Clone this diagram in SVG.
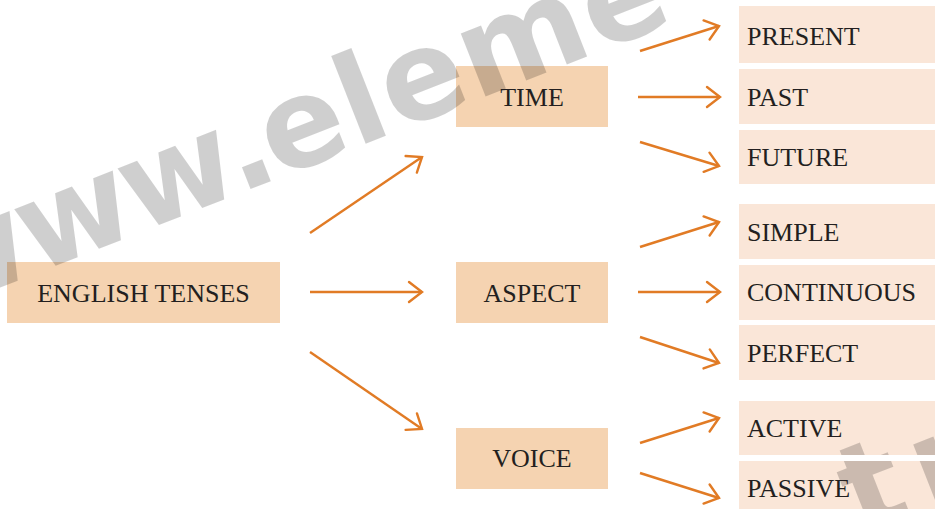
<svg xmlns="http://www.w3.org/2000/svg" width="935" height="509" viewBox="0 0 935 509">
<style>
.main{fill:#F5D3B1}
.leaf{fill:#FAE6D8}
.lbl{font-family:"Liberation Serif","Times New Roman",serif;font-size:26px;fill:#231F20}
.c{text-anchor:middle}
.wm{font-family:"DejaVu Sans","Liberation Sans",sans-serif;font-weight:bold;font-size:124px;fill:#000;fill-opacity:0.19}
.arr{stroke:#E17B25;stroke-width:2.4;fill:none;marker-end:url(#ah)}
</style>
<defs>
<marker id="ah" markerUnits="userSpaceOnUse" viewBox="-16 -14 18 28" markerWidth="18" markerHeight="28" refX="0" refY="0" orient="auto" overflow="visible">
<path d="M-13,-10 L0,0 L-13,10" fill="none" stroke="#E17B25" stroke-width="2.4" stroke-linecap="round" stroke-linejoin="miter"/>
</marker>
</defs>
<rect width="935" height="509" fill="#fff"/>
<g id="boxes-bg">
<rect id="bg-english" class="main" x="7" y="262" width="273" height="61"/>
<rect id="bg-time" class="main" x="456" y="66" width="152" height="61"/>
<rect id="bg-aspect" class="main" x="456" y="262" width="152" height="61"/>
<rect id="bg-voice" class="main" x="456" y="428" width="152" height="61"/>
<rect id="bg-present" class="leaf" x="739" y="6" width="196" height="57"/>
<rect id="bg-past" class="leaf" x="739" y="69" width="196" height="55"/>
<rect id="bg-future" class="leaf" x="739" y="130" width="196" height="54"/>
<rect id="bg-simple" class="leaf" x="739" y="204" width="196" height="55"/>
<rect id="bg-continuous" class="leaf" x="739" y="265" width="196" height="55"/>
<rect id="bg-perfect" class="leaf" x="739" y="325" width="196" height="55"/>
<rect id="bg-active" class="leaf" x="739" y="401" width="196" height="54"/>
<rect id="bg-passive" class="leaf" x="739" y="461" width="196" height="48"/>
</g>
<g id="watermark">
<g transform="translate(370 142) rotate(-21.5)"><text class="wm" x="-471 -360 -249 -141 -100 -15 29 114 245" y="0">www.eleme</text></g>
<g transform="translate(860 536) rotate(-21.5)"><text class="wm" x="0" y="0">t</text></g>
<g transform="translate(938 536) rotate(-21.5)"><text class="wm" x="0" y="0">h</text></g>
<rect x="739" y="455" width="196" height="6" fill="#fff"/>
</g>
<g id="connectors">
<line class="arr" x1="310" y1="233" x2="422" y2="157"/>
<line class="arr" x1="310" y1="292" x2="422" y2="292"/>
<line class="arr" x1="310" y1="352" x2="422" y2="429"/>
<line class="arr" x1="640" y1="51" x2="719" y2="26"/>
<line class="arr" x1="638" y1="97" x2="720" y2="97"/>
<line class="arr" x1="640" y1="142" x2="719" y2="166"/>
<line class="arr" x1="640" y1="247" x2="719" y2="222"/>
<line class="arr" x1="638" y1="292" x2="720" y2="292"/>
<line class="arr" x1="640" y1="337" x2="719" y2="363"/>
<line class="arr" x1="640" y1="443" x2="719" y2="418"/>
<line class="arr" x1="640" y1="473" x2="719" y2="498"/>
</g>
<g id="english-tenses"><text class="lbl c" x="143.5" y="302">ENGLISH TENSES</text></g>
<g id="time"><text class="lbl c" x="532" y="106">TIME</text></g>
<g id="aspect"><text class="lbl c" x="532" y="302">ASPECT</text></g>
<g id="voice"><text class="lbl c" x="532" y="467">VOICE</text></g>
<g id="present"><text class="lbl" x="747" y="45">PRESENT</text></g>
<g id="past"><text class="lbl" x="747" y="106">PAST</text></g>
<g id="future"><text class="lbl" x="747" y="166">FUTURE</text></g>
<g id="simple"><text class="lbl" x="747" y="241">SIMPLE</text></g>
<g id="continuous"><text class="lbl" x="747" y="301">CONTINUOUS</text></g>
<g id="perfect"><text class="lbl" x="747" y="362">PERFECT</text></g>
<g id="active"><text class="lbl" x="747" y="437">ACTIVE</text></g>
<g id="passive"><text class="lbl" x="747" y="497">PASSIVE</text></g>
</svg>
